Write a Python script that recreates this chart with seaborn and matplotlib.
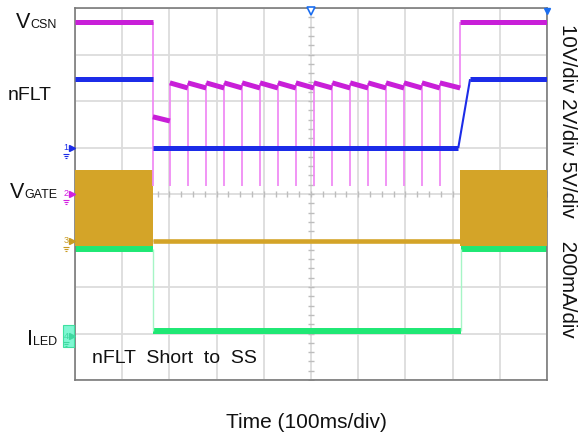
import numpy as np
import pandas as pd
import seaborn as sns
import matplotlib.pyplot as plt
from matplotlib.patches import Rectangle
from matplotlib.transforms import blended_transform_factory

# scope screen is 10 x 8 divisions, time axis in div (100 ms/div)
t_fault = 1.65      # nFLT shorted to SS
t_clear = 8.16      # short removed
t_ramp_end = 8.37   # nFLT back to high level
t_iled_back = 8.18

# hiccup restarts seen on VCSN
pulse_t = [2.01, 2.39, 2.78, 3.16, 3.54, 3.92, 4.30, 4.68,
           5.06, 5.45, 5.83, 6.21, 6.59, 6.97, 7.35, 7.73]

# trace levels (screen divisions)
vcsn_high = 7.70
vcsn_first = [5.66, 5.57]
vcsn_saw = [6.39, 6.28]
vcsn_dip = 4.17
nflt_high = 6.47
nflt_low = 4.99
gate_top = 4.52
gate_bot = 2.88
gate_low = 3.00
iled_high = 2.82
iled_low = 1.05

# channel ground markers
gnd_ch = ['1', '2', '3', '4']
gnd_lvl = [5.0, 4.0, 3.0, 0.94]

mag = '#c81fd8'
mag_thin = '#f08cf4'
blue = '#1c2ce8'
gold = '#d4a428'
green = '#1fe874'
green_thin = '#a6f5c6'
gnd_col = [blue, '#d21fe0', '#c99a20', '#3fd8a0']

W, H = 578, 439
sns.set_style('white')
plt.rcParams['font.family'] = ['Liberation Sans', 'DejaVu Sans']

fig = plt.figure(figsize=(W / 100, H / 100), dpi=100)
ax = fig.add_axes([75 / W, 58 / H, 472 / W, 372 / H])


def seg_frame(segs):
    rows = [(i, x, y) for i, (xs, ys) in enumerate(segs) for x, y in zip(xs, ys)]
    return pd.DataFrame(rows, columns=['seg', 't', 'v'])


def draw(df, color, lw, z):
    sns.lineplot(data=df, x='t', y='v', units='seg', estimator=None, sort=False,
                 color=color, lw=lw, ax=ax, legend=False, zorder=z,
                 solid_capstyle='butt')


# VGATE
ax.fill_between([0, t_fault], gate_bot, gate_top, color=gold, lw=0, zorder=3)
ax.fill_between([t_clear, 10], gate_bot, gate_top, color=gold, lw=0, zorder=3)
draw(seg_frame([([t_fault, t_clear], [gate_low, gate_low])]), gold, 3.3, 3)

# ILED
draw(seg_frame([([0, t_fault], [iled_high, iled_high]),
                ([t_fault, t_iled_back], [iled_low, iled_low]),
                ([t_iled_back, 10], [iled_high, iled_high])]), green, 4.3, 2)
draw(seg_frame([([t_fault, t_fault], [iled_high, iled_low]),
                ([t_iled_back, t_iled_back], [iled_low, iled_high])]), green_thin, 1, 2)

# VCSN thin spikes
spikes = [([t_fault, t_fault], [vcsn_high, vcsn_dip])]
spikes += [([p, p], [vcsn_dip, vcsn_saw[0]]) for p in pulse_t]
spikes += [([t_clear, t_clear], [vcsn_saw[1], vcsn_high])]
draw(seg_frame(spikes), mag_thin, 1.3, 4)

# nFLT
draw(seg_frame([([0, t_fault], [nflt_high, nflt_high]),
                ([t_fault, t_clear - 0.04], [nflt_low, nflt_low]),
                ([t_ramp_end, 10], [nflt_high, nflt_high])]), blue, 3.6, 5)
draw(seg_frame([([t_clear - 0.04, t_ramp_end], [nflt_low, nflt_high])]), blue, 1.5, 5)

# VCSN thick
segs = [([0, t_fault], [vcsn_high, vcsn_high]),
        ([t_fault, pulse_t[0]], vcsn_first)]
for a, b in zip(pulse_t, pulse_t[1:] + [t_clear]):
    segs.append(([a, b], vcsn_saw))
segs.append(([t_clear, 10], [vcsn_high, vcsn_high]))
draw(seg_frame(segs), mag, 3.6, 6)

# screen grid
ax.set_xlim(0, 10)
ax.set_ylim(0, 8)
ax.set_xticks(range(11))
ax.set_yticks(range(9))
ax.grid(True, color='#dcdcdc', lw=1.3)
ax.set_axisbelow(True)
ax.tick_params(length=0, labelleft=False, labelbottom=False)
ax.set(xlabel='', ylabel='')
for s in ax.spines.values():
    s.set_color('#7a7a7a')
    s.set_linewidth(1.2)

xt = np.arange(0, 10.01, 0.25)
ax.plot(xt, [4] * len(xt), ls='none', marker='|', ms=4, color='#bdbdbd', zorder=1.5)
yt = np.arange(0, 8.01, 0.2)
ax.plot([5] * len(yt), yt, ls='none', marker='_', ms=4, color='#bdbdbd', zorder=1.5)

# channel markers on the left edge
trans = blended_transform_factory(ax.transAxes, ax.transData)
px = 1 / 472
py = 1 / 46.5
for ch, lvl, col in zip(gnd_ch, gnd_lvl, gnd_col):
    if ch == '4':
        ax.add_patch(Rectangle((-12 * px, lvl - 11 * py), 11 * px, 22 * py, transform=trans,
                               fc='#7ff7d2', ec='#3fe0a0', lw=0.8, clip_on=False, zorder=7))
    ax.plot(-3 * px, lvl, marker='>', ms=5, color=col, transform=trans, clip_on=False, zorder=8)
    ax.text(-9 * px, lvl + 1 * py, ch, color=col, fontsize=6.5, ha='center', va='center',
            transform=trans, zorder=8)
    ax.scatter([-9 * px] * 3, [lvl - 6 * py, lvl - 8 * py, lvl - 10 * py], marker='_',
               s=[20, 10, 3], color=col, lw=0.8, transform=trans, clip_on=False, zorder=8)

# trigger markers on top
ax.plot(5, 8 - 3 * py, marker='v', ms=6, mfc='white', mec='#1b6ef0', mew=1.2,
        clip_on=False, zorder=8)
ax.plot(10 - 3 * px, 8 - 3 * py, marker='v', ms=5, color='#1b6ef0', clip_on=False, zorder=8)


def fig_text(x, y, s, **kw):
    return fig.text(x / W, 1 - y / H, s, color='#111111', **kw)


def sub_label(x_right, y_base, main, sub):
    t = fig_text(x_right, y_base, sub, fontsize=9, ha='right', va='baseline')
    bb = t.get_window_extent(renderer=fig.canvas.get_renderer())
    fig_text(bb.x0, y_base, main, fontsize=15.5, ha='right', va='baseline')


sub_label(57, 28, 'V', 'CSN')
fig_text(8, 100, 'nFLT', fontsize=14, ha='left', va='baseline')
sub_label(57, 198, 'V', 'GATE')
sub_label(57, 345, 'I', 'LED')

fig_text(92, 363, 'nFLT  Short  to  SS', fontsize=14, ha='left', va='baseline')
fig_text(306, 428, 'Time (100ms/div)', fontsize=15, ha='center', va='baseline')
fig_text(567, 181, '10V/div 2V/div 5V/div    200mA/div', fontsize=14.8,
         rotation=270, ha='center', va='center')

fig.savefig('out.png', dpi=100)
